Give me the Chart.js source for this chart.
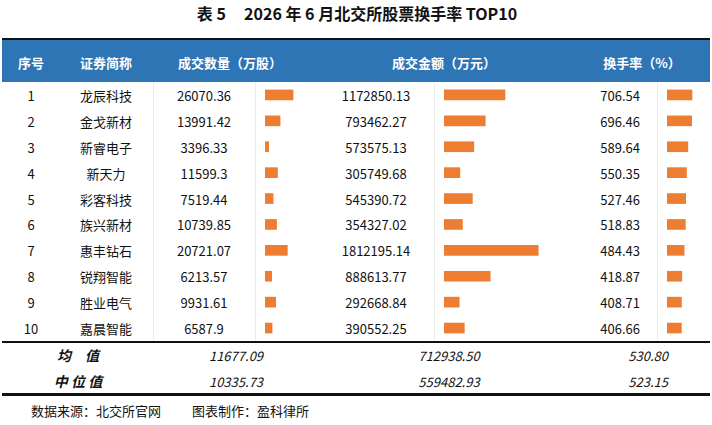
<!DOCTYPE html>
<html>
<head>
<meta charset="utf-8">
<script src="https://cdn.jsdelivr.net/npm/chart.js@4"></script>
<style>
  html, body { margin: 0; padding: 0; background: #fff; }
  body { width: 712px; height: 425px; position: relative; overflow: hidden;
         font-family: "Noto Sans CJK SC", "Noto Sans", sans-serif; color: #111; }
  .abs { position: absolute; white-space: nowrap; }
  .c { transform: translate(-50%, -50%); }
  .r { transform: translate(-100%, -50%); }
  .title { left: 357px; top: 13px; font-size: 16px; font-weight: bold; }
  .head { left: 2px; width: 708px; top: 38px; height: 44px; background: #2E75B6; border-top: 2px solid #111; box-sizing: border-box; }
  .hd { color: #fff; font-weight: bold; font-size: 13px; top: 62px; }
  .cell { font-size: 13px; }
  .sep { width: 1px; top: 82px; height: 259px; background: #ececec; }
  .line { left: 2px; width: 708px; background: #111; }
  .sum { font-size: 13px; font-style: italic; }
  .sumlab { font-weight: bold; font-size: 14px; }
  .src { font-size: 13px; top: 410px; transform: translateY(-50%); }
  canvas.bars { position: absolute; top: 82px; }
</style>
</head>
<body>
<div class="abs title c">表 5&nbsp;&nbsp;&nbsp;&nbsp;&nbsp;2026 年 6 月北交所股票换手率 TOP10</div>
<div class="abs head"></div>

<canvas id="qtyBars" class="bars" width="70" height="259" style="left:265px;width:70px;height:259px"></canvas>
<canvas id="amtBars" class="bars" width="130" height="259" style="left:444px;width:130px;height:259px"></canvas>
<canvas id="rateBars" class="bars" width="40" height="259" style="left:667px;width:40px;height:259px"></canvas>

<script>
// ---- 数据 ----
const headers = ['序号', '证券简称', '成交数量（万股）', '成交金额（万元）', '换手率（%）'];
const ranks = [1, 2, 3, 4, 5, 6, 7, 8, 9, 10];
const names = ['龙辰科技', '金戈新材', '新睿电子', '新天力', '彩客科技', '族兴新材', '惠丰钻石', '锐翔智能', '胜业电气', '嘉晨智能'];
const volumes = [26070.36, 13991.42, 3396.33, 11599.3, 7519.44, 10739.85, 20721.07, 6213.57, 9931.61, 6587.9];
const amounts = [1172850.13, 793462.27, 573575.13, 305749.68, 545390.72, 354327.02, 1812195.14, 888613.77, 292668.84, 390552.25];
const turnover = [706.54, 696.46, 589.64, 550.35, 527.46, 518.83, 484.43, 418.87, 408.71, 406.66];
const summaryLabels = ['均　值', '中 位 值'];
const summaryVolume = [11677.09, 10335.73];
const summaryAmount = [712938.50, 559482.93];
const summaryTurnover = [530.80, 523.15];
const sourceNote = '数据来源：北交所官网';
const makerNote = '图表制作：盈科律所';

// ---- 版式 ----
const ROW_TOP = 82, ROW_H = 25.9;
const BAR = '#ED7D31';

function put(html, cls, left, top) {
  const d = document.createElement('div');
  d.className = 'abs ' + cls;
  d.style.left = left + 'px';
  d.style.top = top + 'px';
  d.innerHTML = html;
  document.body.appendChild(d);
  return d;
}

// 表头
[31, 106, 230, 444, 642].forEach((x, i) => put(headers[i], 'hd c', x, 62));

// 分隔线
[153, 255, 434, 657].forEach(x => put('', 'sep', x, 82));

// 数据行
ranks.forEach((r, i) => {
  const y = ROW_TOP + ROW_H * (i + 0.5);
  put(r, 'cell c', 31, y);
  put(names[i], 'cell c', 106, y);
  put(String(volumes[i]), 'cell c', 204, y);
  put(String(amounts[i]), 'cell c', 376, y);
  put(String(turnover[i]), 'cell r', 640, y);
});

// 汇总
const l1 = put('', 'line', 2, 341); l1.style.height = '1.5px';
[355, 381].forEach((y, i) => {
  put(summaryLabels[i], 'sum sumlab c', 78, y);
  put(summaryVolume[i].toFixed(2), 'sum c', 236, y);
  put(summaryAmount[i].toFixed(2), 'sum c', 449, y);
  put(summaryTurnover[i].toFixed(2), 'sum r', 668, y);
});
const l2 = put('', 'line', 2, 393); l2.style.height = '2.5px';

put(sourceNote, 'src', 31, 410);
put(makerNote, 'src', 192, 410);

// ---- 数据条 ----
function dataBars(id, values, max) {
  return new Chart(document.getElementById(id), {
    type: 'bar',
    data: {
      labels: names,
      datasets: [{ data: values, backgroundColor: BAR, borderWidth: 0, barThickness: 10 }]
    },
    options: {
      indexAxis: 'y',
      responsive: false,
      animation: false,
      layout: { padding: 0 },
      plugins: { legend: { display: false }, tooltip: { enabled: false } },
      scales: {
        x: { display: false, min: 0, max },
        y: { display: false }
      }
    }
  });
}

dataBars('qtyBars', volumes, 65000);
dataBars('amtBars', amounts, 2500000);
dataBars('rateBars', turnover, 1130);
</script>
</body>
</html>
